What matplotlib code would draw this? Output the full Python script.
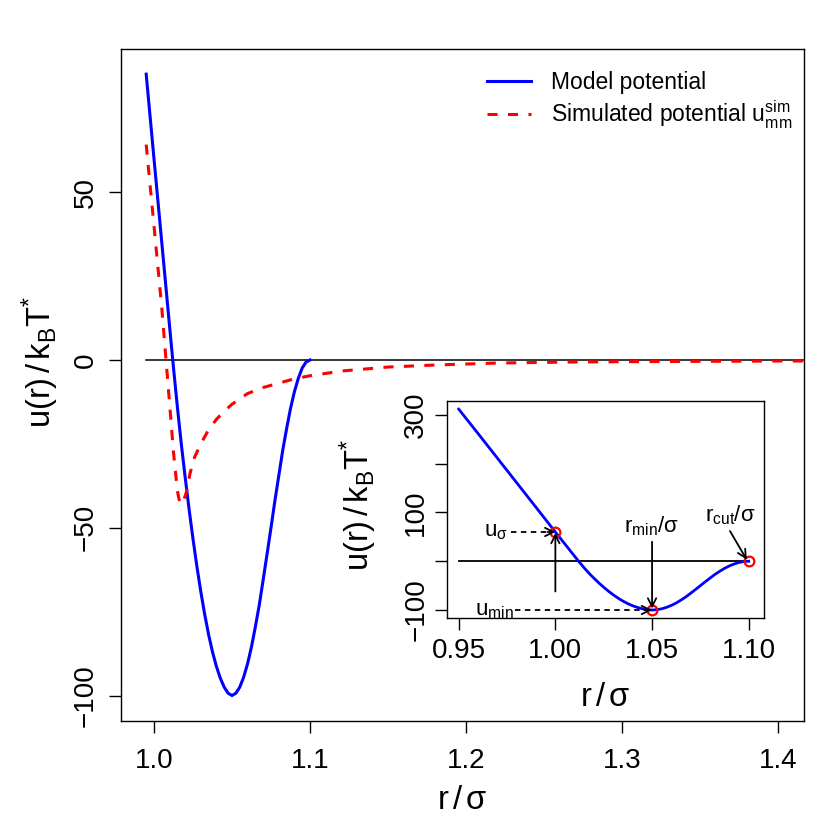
import numpy as np
import matplotlib
matplotlib.use("Agg")
import matplotlib.pyplot as plt

plt.rcParams["font.family"] = ["Liberation Sans", "DejaVu Sans"]
plt.rcParams["mathtext.fontset"] = "custom"
plt.rcParams["mathtext.rm"] = "Liberation Sans"
plt.rcParams["mathtext.it"] = "Liberation Sans"
plt.rcParams["mathtext.default"] = "regular"

# model potential u(r)/kBT* (inset covers 0.95..1.10)
r_model = [0.950, 0.960, 0.970, 0.980, 0.990, 0.995, 1.000, 1.005, 1.010,
           1.0125, 1.015, 1.0175, 1.020, 1.0225, 1.025, 1.0275, 1.030, 1.0325,
           1.035, 1.0375, 1.040, 1.0425, 1.045, 1.0475, 1.050, 1.0525, 1.055,
           1.0575, 1.060, 1.0625, 1.065, 1.0675, 1.070, 1.0725, 1.075, 1.0775,
           1.080, 1.0825, 1.085, 1.0875, 1.090, 1.0925, 1.095, 1.0975, 1.100]
u_model = [312, 262, 211.5, 161, 110.5, 85.2, 60, 35, 10,
           -2.3, -14, -25, -35, -44.5, -53.3, -61.5, -69, -75.8,
           -81.8, -87, -91.3, -94.8, -97.5, -99.3, -100, -99.3, -97.5,
           -94.5, -90.5, -85.5, -79.5, -73, -65.5, -57.8, -50, -42,
           -34.5, -27, -20.5, -14.5, -9.5, -5.5, -2.4, -0.6, 0]

# simulated potential u_mm^sim
r_sim = [0.995, 1.000, 1.005, 1.010, 1.0125, 1.015, 1.0165, 1.0175, 1.0185,
         1.020, 1.021, 1.023, 1.026, 1.030, 1.035, 1.040, 1.045, 1.050,
         1.060, 1.070, 1.080, 1.090, 1.100, 1.120, 1.150, 1.180, 1.220,
         1.260, 1.300, 1.350, 1.400, 1.4165]
u_sim = [64.2, 40, 15.5, -13, -27.5, -39, -42.5, -43, -42.5,
         -40.5, -39, -34, -29, -25, -20.8, -17.7, -15.3, -13.2,
         -10, -8.2, -6.9, -5.6, -4.7, -3.3, -2.1, -1.5, -0.9,
         -0.65, -0.5, -0.4, -0.3, -0.3]

# marked points in the inset
r_pts = [1.00, 1.05, 1.10]
u_pts = [60, -100, 0]

main_xticks = [1.0, 1.1, 1.2, 1.3, 1.4]
main_yticks = [-100, -50, 0, 50]
inset_xticks = [0.95, 1.00, 1.05, 1.10]
inset_yticks = [-100, 0, 100, 200, 300]
inset_ylabels = ["\u2212100", "", "100", "", "300"]

r_model = np.array(r_model)
u_model = np.array(u_model)
in_main = r_model >= 0.995

fig = plt.figure(figsize=(8.3, 8.3), dpi=100)
ax = fig.add_axes([0.1454, 0.1317, 0.8229, 0.8089])
ax.set_xlim(0.97865, 1.4165)
ax.set_ylim(-107.5, 92.6)

ax.plot([0.995, ax.get_xlim()[1]], [0, 0], color="black", lw=1.1, clip_on=True)
ax.plot(r_model[in_main], u_model[in_main], color="blue", lw=2.2,
        label="Model potential")
ax.plot(r_sim, u_sim, color="red", lw=2.2, linestyle=(0, (3.3, 3.4)),
        clip_on=True, label=r"Simulated potential $u_{mm}^{sim}$")

ax.set_xticks(main_xticks)
ax.set_xticklabels([f"{t:.1f}" for t in main_xticks])
ax.set_yticks(main_yticks)
ax.set_yticklabels([str(t).replace("-", "\u2212") for t in main_yticks])
ax.tick_params(direction="out", length=8.6, width=1.0, labelsize=20, pad=11)
ax.tick_params(axis="y", labelrotation=90, pad=7)
for lab in ax.get_yticklabels():
    lab.set_va("center")
for s in ax.spines.values():
    s.set_linewidth(1.0)

fig.text(462 / 830, 1 - 800 / 830, r"$r\,/\,\sigma$", fontsize=23.5,
         ha="center", va="center")
fig.text(40 / 830, 1 - 362 / 830, r"$u(r)\,/\,k_B T^{*}$", fontsize=23.5,
         ha="center", va="center", rotation=90)

ax.legend(loc="upper right", bbox_to_anchor=(1.006, 0.99), frameon=False,
          fontsize=16.5, handlelength=1.9, handletextpad=0.9,
          labelspacing=0.2, borderaxespad=0.25)

# inset
ins = fig.add_axes([0.5382, 0.2554, 0.3823, 0.2615])
ins.set_facecolor("white")
ins.plot([0.95, 1.10], [0, 0], color="black", lw=1.3)
ins.plot(r_model, u_model, color="blue", lw=2.0)
ins.plot(r_pts, u_pts, linestyle="none", marker="o", markersize=7,
         markerfacecolor="none", markeredgecolor="red", markeredgewidth=1.6)

arrow = dict(arrowstyle="->", color="black", lw=1.3, shrinkA=0, shrinkB=0,
             mutation_scale=15)
ins.plot([0.9768, 0.998], [60, 60], color="black", lw=1.3, linestyle=(0, (3, 2.5)))
ins.annotate("", xy=(1.0, 60), xytext=(0.996, 60), arrowprops=arrow)
ins.annotate("", xy=(1.0, 58), xytext=(1.0, -62), arrowprops=arrow)
ins.plot([0.979, 1.048], [-100, -100], color="black", lw=1.3, linestyle=(0, (3, 2.5)))
ins.annotate("", xy=(1.05, -100), xytext=(1.046, -100), arrowprops=arrow)
ins.annotate("", xy=(1.05, -97), xytext=(1.05, 40), arrowprops=arrow)
ins.annotate("", xy=(1.099, 3), xytext=(1.0903, 62), arrowprops=arrow)

ins.text(0.9755, 60, r"$u_\sigma$", fontsize=16, ha="right", va="center")
ins.text(0.9785, -100, r"$u_{min}$", fontsize=16, ha="right", va="center")
ins.text(1.0498, 72, r"$r_{min}/\sigma$", fontsize=16, ha="center", va="center")
ins.text(1.0905, 94, r"$r_{cut}/\sigma$", fontsize=16, ha="center", va="center")

ins.set_xlim(0.9438, 1.1079)
ins.set_ylim(-116.4, 328.7)
ins.set_xticks(inset_xticks)
ins.set_xticklabels([f"{t:.2f}" for t in inset_xticks])
ins.set_yticks(inset_yticks)
ins.set_yticklabels(inset_ylabels)
ins.tick_params(direction="out", length=8.6, width=1.0, labelsize=20, pad=6)
ins.tick_params(axis="y", labelrotation=90, pad=4)
for lab in ins.get_yticklabels():
    lab.set_va("center")
for s in ins.spines.values():
    s.set_linewidth(1.0)

fig.text(605 / 830, 1 - 697 / 830, r"$r\,/\,\sigma$", fontsize=23.5,
         ha="center", va="center")
fig.text(358 / 830, 1 - 505 / 830, r"$u(r)\,/\,k_B T^{*}$", fontsize=23.5,
         ha="center", va="center", rotation=90)

fig.savefig("out.png", dpi=100)
